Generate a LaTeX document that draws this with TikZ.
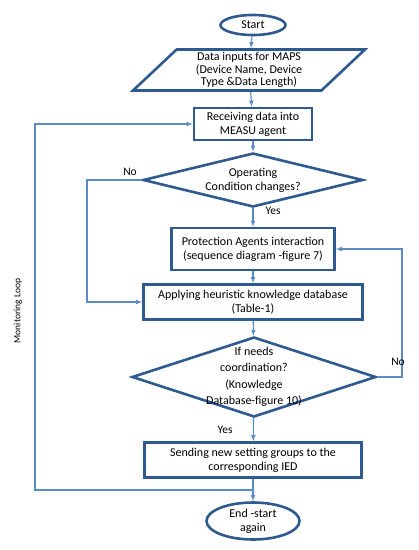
\documentclass[tikz,border=0pt]{standalone}
\usepackage{fontspec}
\setmainfont{Carlito}
\usepackage{tikz}
\usetikzlibrary{shapes.geometric,calc}
\definecolor{boxblue}{HTML}{2F5A8F}
\definecolor{arrowblue}{HTML}{5B8BC9}

\begin{document}
\begin{tikzpicture}[x=1pt,y=-1pt]
\useasboundingbox (0,0) rectangle (419,550);

\tikzstyle{box}=[draw=boxblue,line width=2.6pt,fill=white,align=center,inner sep=0pt,font=\fontsize{12}{14}\selectfont]
\tikzstyle{term}=[box,ellipse]
\tikzstyle{decision}=[box,diamond]
\tikzstyle{flow}=[draw=arrowblue,line width=1.1pt,-latex]
\tikzstyle{lbl}=[font=\fontsize{11.5}{14}\selectfont]

\node (start) [term,minimum width=65,minimum height=20] at (253,25) {Start};
\node (inputs) [box,trapezium,trapezium left angle=39,trapezium right angle=141,trapezium stretches body,minimum width=232,minimum height=41,font=\fontsize{12}{12.5}\selectfont] at (249,70) {Data inputs for MAPS\\ (Device Name, Device\\ Type \&Data Length)};
\node (recv) [box,minimum width=118,minimum height=32] at (253,124) {Receiving data into\\ MEASU agent};
\node (cond) [decision,aspect=4,inner ysep=-4pt,minimum width=220,minimum height=54] at (253,180) {Operating\\ Condition changes?};
\node (prot) [box,minimum width=163,minimum height=42] at (253,249) {Protection Agents interaction\\ (sequence diagram -figure 7)};
\node (apply) [box,minimum width=219,minimum height=35] at (253,302) {Applying heuristic knowledge database\\ (Table-1)};
\node (coord) [decision,aspect=3,inner ysep=-13pt,minimum width=244,minimum height=80,font=\fontsize{12}{16.5}\selectfont] at (254,377) {If needs\\ coordination?\\ (Knowledge\\ Database-figure 10)};
\node (send) [box,minimum width=217,minimum height=35] at (253,460) {Sending new setting groups to the\\ corresponding IED};
\node (finish) [term,minimum width=93,minimum height=37] at (253,521) {End -start\\ again};

\coordinate (leftx) at (87,0);
\coordinate (rightx) at (402,0);
\coordinate (loopx) at (35,0);
\coordinate (loop) at (253,490);

\draw [flow] (start) -- (inputs);
\draw [flow] (inputs) -- (recv);
\draw [flow] (recv) -- (cond);
\draw [flow] (cond) -- (prot);
\draw [flow] (prot) -- (apply);
\draw [flow] (apply) -- (coord);
\draw [flow] (coord) -- (send);
\draw [flow] (send) -- (finish);

% no branches
\draw [flow] (cond.west) -| (leftx |- apply.west) -- (apply.west);
\draw [flow] (coord.east) -| (rightx |- prot.east) -- (prot.east);

% monitoring loop
\draw [flow] (loop) -| (loopx |- recv.west) -- (recv.west);

\node (no1) [lbl] at (130,172) {No};
\node (yes1) [lbl] at (273,211) {Yes};
\node (no2) [lbl] at (398,362) {No};
\node (yes2) [lbl] at (225,430) {Yes};
\node (looplbl) [rotate=90,font=\fontsize{9.5}{10}\selectfont] at (18,311) {Monitoring Loop};

\end{tikzpicture}
\end{document}
